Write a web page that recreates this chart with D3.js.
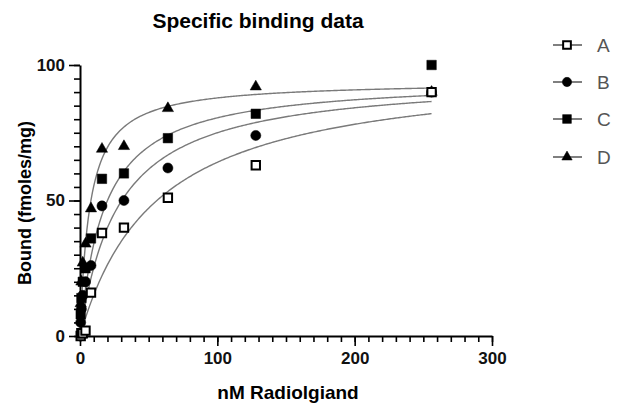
<!DOCTYPE html>
<html>
<head>
<meta charset="utf-8">
<script src="https://cdn.jsdelivr.net/npm/d3@7"></script>
<style>
  body { margin: 0; background: #fff; }
  text { font-family: "Liberation Sans", Arial, sans-serif; }
</style>
</head>
<body>
<div id="chart"></div>
<script>
// Concentration of radioligand (nM)
var conc = [0.5, 1, 2, 4, 8, 16, 32, 64, 128, 256];

// Bound (fmoles/mg) for each series
var seriesA = [0, 1, 1, 2, 16, 38, 40, 51, 63, 90];
var seriesB = [5, 10, 15, 20, 26, 48, 50, 62, 74, 90];
var seriesC = [8, 14, 20, 25, 36, 58, 60, 73, 82, 100];
var seriesD = [12, 20, 27, 34, 47, 69, 70, 84, 92, 90];

// One site fit parameters
var fitBmax = [100, 96, 95, 94];
var fitKd = [56, 28, 18, 7];

var seriesNames = ['A', 'B', 'C', 'D'];
var xTicks = [0, 100, 200, 300];
var yTicks = [0, 50, 100];

var width = 617, height = 412;

var svg = d3.select('#chart').append('svg')
  .attr('width', width)
  .attr('height', height);

var x = d3.scaleLinear().domain([0, 300]).range([80, 492]);
var y = d3.scaleLinear().domain([0, 100]).range([336, 65]);

// Title
svg.append('text')
  .attr('x', 258).attr('y', 28)
  .attr('text-anchor', 'middle')
  .attr('font-size', 21).attr('font-weight', 'bold')
  .text('Specific binding data');

// Minor ticks
svg.append('g')
  .attr('transform', 'translate(0,' + y(0) + ')')
  .call(d3.axisBottom(x).tickValues(d3.range(0, 301, 10)).tickSize(6).tickFormat(''))
  .call(function(g) { g.select('.domain').remove(); });
svg.append('g')
  .attr('transform', 'translate(' + x(0) + ',0)')
  .call(d3.axisLeft(y).tickValues(d3.range(0, 101, 5)).tickSize(6).tickFormat(''))
  .call(function(g) { g.select('.domain').remove(); });

// Major axes
var xAxis = svg.append('g')
  .attr('transform', 'translate(0,' + y(0) + ')')
  .call(d3.axisBottom(x).tickValues(xTicks).tickSize(10).tickSizeOuter(0).tickPadding(6));
var yAxis = svg.append('g')
  .attr('transform', 'translate(' + x(0) + ',0)')
  .call(d3.axisLeft(y).tickValues(yTicks).tickSize(11).tickSizeOuter(0).tickPadding(4));

svg.selectAll('.tick line').attr('stroke', '#000').attr('stroke-width', 1.6);
svg.selectAll('.domain').attr('stroke', '#000').attr('stroke-width', 2);
svg.selectAll('.tick text')
  .attr('font-family', '"Liberation Sans", Arial, sans-serif')
  .attr('font-size', 17).attr('font-weight', 'bold').attr('fill', '#111');

// Axis titles
svg.append('text')
  .attr('x', 288).attr('y', 399)
  .attr('text-anchor', 'middle')
  .attr('font-size', 19).attr('font-weight', 'bold')
  .text('nM Radiolgiand');
svg.append('text')
  .attr('transform', 'translate(31,203) rotate(-90)')
  .attr('text-anchor', 'middle')
  .attr('font-size', 18).attr('font-weight', 'bold')
  .text('Bound (fmoles/mg)');

// Fitted curves
var curveX = d3.range(0, 257, 1);
var line = d3.line()
  .x(function(d) { return x(d[0]); })
  .y(function(d) { return y(d[1]); });

var curves = svg.append('g');
for (var i = 0; i < 4; i++) {
  var pts = curveX.map(function(c) { return [c, fitBmax[i] * c / (fitKd[i] + c)]; });
  curves.append('path')
    .datum(pts)
    .attr('d', line)
    .attr('fill', 'none')
    .attr('stroke', '#7a7a7a')
    .attr('stroke-width', 1.4);
}

// Marker shapes
var symbols = [
  { type: d3.symbolSquare, size: 70, fill: '#fff' },
  { type: d3.symbolCircle, size: 80, fill: '#000' },
  { type: d3.symbolSquare, size: 90, fill: '#000' },
  { type: d3.symbolTriangle, size: 55, fill: '#000' }
];
var allSeries = [seriesA, seriesB, seriesC, seriesD];

// draw D first so A ends up on top
var pointsG = svg.append('g');
for (var s = 3; s >= 0; s--) {
  var sym = symbols[s];
  pointsG.append('g').selectAll('path')
    .data(allSeries[s])
    .enter().append('path')
      .attr('transform', function(d, k) { return 'translate(' + x(conc[k]) + ',' + y(d) + ')'; })
      .attr('d', d3.symbol().type(sym.type).size(sym.size))
      .attr('fill', sym.fill)
      .attr('stroke', '#000')
      .attr('stroke-width', s == 0 ? 2 : 0.5);
}

// Legend
var legend = svg.append('g');
var legendY = [45, 82, 119, 157];
for (var j = 0; j < 4; j++) {
  var row = legend.append('g').attr('transform', 'translate(0,' + legendY[j] + ')');
  row.append('line')
    .attr('x1', 553).attr('x2', 582)
    .attr('stroke', '#555').attr('stroke-width', 1.5);
  row.append('path')
    .attr('transform', 'translate(567,0)')
    .attr('d', d3.symbol().type(symbols[j].type).size(symbols[j].size * 0.85))
    .attr('fill', symbols[j].fill)
    .attr('stroke', '#000')
    .attr('stroke-width', j == 0 ? 2 : 0.5);
  row.append('text')
    .attr('x', 597).attr('y', 7)
    .attr('font-size', 19).attr('fill', '#555')
    .text(seriesNames[j]);
}
</script>
</body>
</html>
